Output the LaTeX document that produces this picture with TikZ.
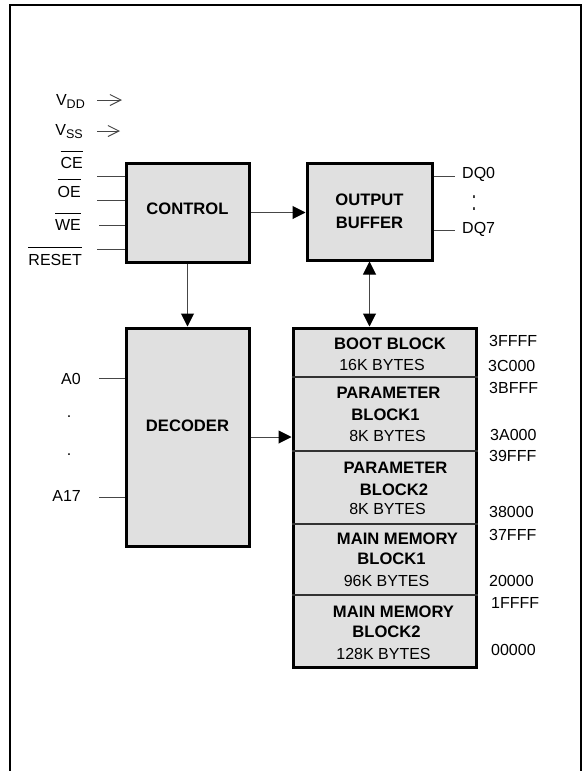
\documentclass[tikz,border=0pt]{standalone}
\usepackage{fontspec}
\setmainfont{Liberation Sans}
\usetikzlibrary{arrows.meta}
\definecolor{boxfill}{RGB}{224,224,224}
\definecolor{wirec}{RGB}{70,70,70}
\newcommand\ovl[1]{\vbox{\hrule height 1pt\kern 5.5pt\hbox{#1}}}
\begin{document}
\begin{tikzpicture}[x=1pt,y=-1pt,
  every node/.style={font=\fontsize{16}{21}\selectfont, inner sep=0pt},
  blk/.style={draw=black, line width=3pt, fill=boxfill, font=\fontsize{16.6}{23}\selectfont\bfseries, align=center},
  bt/.style={font=\fontsize{16.6}{21}\selectfont\bfseries},
  wire/.style={draw=wirec, line width=1pt},
  arr/.style={wire, -{Triangle[length=13pt,width=13pt,color=black]}},
  darr/.style={wire, {Triangle[length=13pt,width=13pt,color=black]}-{Triangle[length=13pt,width=13pt,color=black]}},
  barb/.style={wire, -{Straight Barb[length=11pt,width=11pt]}},
  divider/.style={draw=black!80, line width=1.3pt},
  addr/.style={anchor=west}
]
\useasboundingbox (0,0) rectangle (582,771);
\draw[line width=2pt] (10,771) -- (10,5) -- (581,5) -- (581,771);

% boxes
\node[blk, minimum width=123pt, minimum height=99pt] (ctrl) at (187.5,212.5) {\raisebox{4pt}[\height][\depth]{CONTROL}};
\node[blk, minimum width=125pt, minimum height=97pt] (obuf) at (369.5,211.5) {OUTPUT\\BUFFER};
\node[blk, minimum width=123pt, minimum height=218pt] (dec) at (187.5,437) {\raisebox{11pt}[\height][\depth]{DECODER}};
\node[blk, minimum width=183pt, minimum height=339pt] (mem) at (384.5,497.5) {};

% memory dividers
\foreach \yy in {377,451,524,595} {
  \draw[divider] (mem.west |- 0,\yy) -- (mem.east |- 0,\yy);
}

% memory texts
\node[bt] (t1a) at (390,344) {BOOT BLOCK};
\node (t1b) at (382,365) {16K BYTES};
\node[bt] (t2a) at (388.5,393) {PARAMETER};
\node[bt] (t2b) at (385.5,415) {BLOCK1};
\node (t2c) at (387.5,436) {8K BYTES};
\node[bt] (t3a) at (395.5,468) {PARAMETER};
\node[bt] (t3b) at (394,490) {BLOCK2};
\node (t3c) at (387.5,509) {8K BYTES};
\node[bt] (t4a) at (397.5,539) {MAIN MEMORY};
\node[bt] (t4b) at (391.5,559) {BLOCK1};
\node (t4c) at (386.5,581) {96K BYTES};
\node[bt] (t5a) at (393.5,612) {MAIN MEMORY};
\node[bt] (t5b) at (386.5,632) {BLOCK2};
\node (t5c) at (383.5,654) {128K BYTES};

% addresses
\node[addr] (a1) at (489,341) {3FFFF};
\node[addr] (a2) at (488,366) {3C000};
\node[addr] (a3) at (489,388) {3BFFF};
\node[addr] (a4) at (490,435) {3A000};
\node[addr] (a5) at (489,456) {39FFF};
\node[addr] (a6) at (489,512) {38000};
\node[addr] (a7) at (489,535) {37FFF};
\node[addr] (a8) at (489,581) {20000};
\node[addr] (a9) at (491,603) {1FFFF};
\node[addr] (a10) at (491,650) {00000};

% supply
\node[anchor=base east] (vdd) at (85,105) {V\raisebox{-3pt}{\fontsize{12.5}{12}\selectfont DD}};
\node[anchor=base east] (vss) at (83,135) {V\raisebox{-3pt}{\fontsize{12.5}{12}\selectfont SS}};
\coordinate (vdda) at (97,100); \coordinate (vddb) at (122,100);
\coordinate (vssa) at (97,131); \coordinate (vssb) at (120,131);
\draw[barb] (vdda) -- (vddb);
\draw[barb] (vssa) -- (vssb);

% control pins
\node[anchor=base east] (lce) at (83,168.5) {\ovl{CE}};
\node[anchor=base east] (loe) at (81,197) {\ovl{OE}};
\node[anchor=base east] (lwe) at (81,230.5) {\ovl{WE}};
\node[anchor=base east] (lrst) at (82,265) {\ovl{RESET}};
\coordinate (pce) at (97,176);
\coordinate (poe) at (97,200);
\coordinate (pwe) at (99,225);
\coordinate (prst) at (97,249);
\foreach \p in {pce,poe,pwe,prst} { \draw[wire] (\p) -- (\p -| ctrl.west); }

% address pins
\node[anchor=east] (la0) at (81,379) {A0};
\node (d1) at (69,417) {.};
\node (d2) at (69,455) {.};
\node[anchor=east] (la17) at (81,495.5) {A17};
\coordinate (pa0) at (99,378);
\coordinate (pa17) at (99,497.5);
\draw[wire] (pa0) -- (pa0 -| dec.west);
\draw[wire] (pa17) -- (pa17 -| dec.west);

% data pins
\coordinate (q0) at (455,176);
\coordinate (q7) at (455,230);
\draw[wire] (obuf.east |- q0) -- (q0);
\draw[wire] (obuf.east |- q7) -- (q7);
\node[anchor=west] (dq0) at (462,174) {DQ0};
\node (d3) at (474,203) {\scalebox{1}[1.75]{:}};
\node[anchor=west] (dq7) at (462,229.5) {DQ7};

% connections
\draw[arr] (ctrl.east) -- (ctrl.east -| obuf.west);
\draw[arr] (ctrl.south) -- (dec.north);
\draw[darr] (obuf.south) -- (obuf.south |- mem.north);
\draw[arr] (dec.east) -- (dec.east -| mem.west);
\end{tikzpicture}
\end{document}
